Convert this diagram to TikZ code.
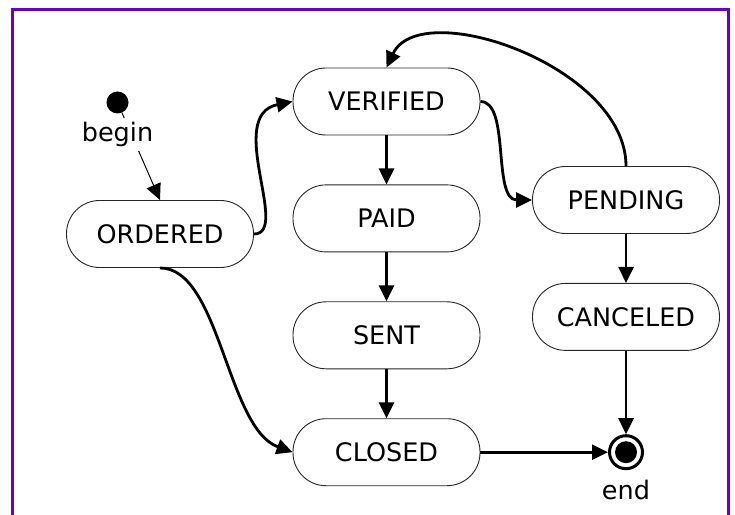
\documentclass[tikz,border=0pt]{standalone}
\usepackage{fontspec}
\setmainfont{DejaVu Sans}
\usepackage{tikz}
\usetikzlibrary{arrows.meta,positioning,calc}

\definecolor{framepurple}{RGB}{102,0,204}

\tikzset{
	state/.style={draw=black!85, line width=0.9pt, rectangle, rounded corners=33pt,
		minimum width=187pt, minimum height=67pt, inner sep=0pt,
		font=\fontsize{25.5}{30}\selectfont},
	initstate/.style={circle, fill=black, minimum size=22pt, inner sep=0pt},
	finalstate/.style={circle, draw, line width=3pt, minimum size=33pt, inner sep=0pt,
		path picture={\fill (path picture bounding box.center) circle (11pt);}},
	statelabel/.style={fill=white, inner sep=4pt, font=\fontsize{25.5}{30}\selectfont},
	trans/.style={-{Triangle[length=16pt,width=15pt]}, line width=2.8pt},
	inittrans/.style={-{Triangle[length=16pt,width=15pt]}, line width=1pt},
}

\begin{document}
\begin{tikzpicture}[x=1pt,y=1pt]
	\useasboundingbox (0,0) rectangle (735,514);
	\draw[framepurple, line width=3pt, line join=miter] (12.5,-5) -- (12.5,504.3) -- (728.3,504.3) -- (728.3,-5);

	\node[initstate] (start) at (117.5,411.5) {};
	\node[state] (ordered) at (160,280) {ORDERED};
	\node[state] (verified) at (386.5,412.5) {VERIFIED};
	\node[state, below=49pt of verified] (paid) {PAID};
	\node[state, below=49pt of paid] (sent) {SENT};
	\node[state, below=49pt of sent] (closed) {CLOSED};
	\node[state] (pending) at (626,314) {PENDING};
	\node[state, below=49pt of pending] (canceled) {CANCELED};
	\node[finalstate] (stop) at (closed -| canceled) {};

	\draw[inittrans] (start) -- (ordered.north);
	\node[statelabel, below=4pt of start] (startlbl) {begin};
	\node[font=\fontsize{25.5}{30}\selectfont, below=6pt of stop] (stoplbl) {end};

	\draw[trans] (ordered.east) .. controls +(37,0) and +(-68,-14) .. (verified.west);
	\draw[trans] (ordered.south) .. controls +(60,0) and +(-66,24) .. (closed.west);
	\draw[trans] (verified) -- (paid);
	\draw[trans] (paid) -- (sent);
	\draw[trans] (sent) -- (closed);
	\draw[trans] (verified.east) .. controls +(30,0) and +(-40,0) .. (pending.west);
	\draw[trans] (pending.north) .. controls +(0,100) and +(34,72) .. (verified.north);
	\draw[trans] (pending) -- (canceled);
	\draw[trans] (canceled) -- (stop);
	\draw[trans] (closed) -- (stop);
\end{tikzpicture}
\end{document}
